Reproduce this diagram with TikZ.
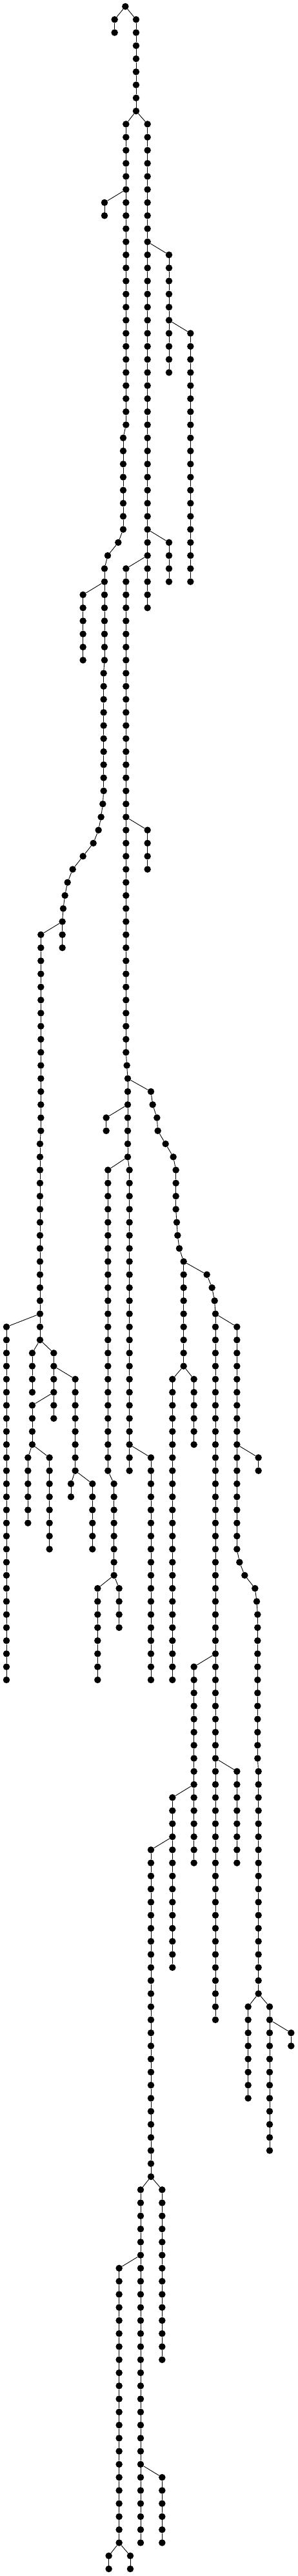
\documentclass[tikz,border=0pt]{standalone}
\usepackage{tikz}

\tikzset{
  bead/.style={circle, fill=black, inner sep=0pt, minimum size=10.5pt},
  link/.style={line width=0.9pt, black}
}

% straight run of beads: name, x, first row, last row, parent
\newcommand{\beadrun}[5]{%
  \foreach \rw in {#3,...,#4}{%
    \node[bead] (#1-\rw) at (#2,\rw) {};
    \ifnum\rw=#3\relax
      \draw[link] (#5) -- (#1-\rw);
    \else
      \pgfmathtruncatemacro{\rq}{\rw-1}%
      \draw[link] (#1-\rq) -- (#1-\rw);
    \fi
  }%
}
% bent run of beads: name, parent, list x/row
\newcommand{\beadbend}[3]{%
  \xdef\beadprev{#2}%
  \foreach \bx/\rw in {#3}{%
    \node[bead] (#1-\rw) at (\bx,\rw) {};
    \draw[link] (\beadprev) -- (#1-\rw);
    \xdef\beadprev{#1-\rw}%
  }%
}

\begin{document}
\begin{tikzpicture}[x={(0.33333pt,0pt)}, y={(0pt,-20.265pt)}]
  \useasboundingbox (0,-0.4935) rectangle (1386,196.546);
  % Root
  \node[bead] (root) at (583,0) {};
  \beadrun{t}{533}{1}{2}{root}
  \beadrun{s}{633}{1}{8}{root}
  % Left trunk
  \beadrun{u}{586}{9}{32}{s-8}
  \beadrun{ua}{486}{15}{16}{u-14}
  \beadrun{u2}{573}{33}{40}{u-32}
  \beadbend{ub}{u2-40}{550/41,501/42}
  \beadrun{u5}{486}{43}{50}{ub-42}
  \beadrun{uc}{386}{45}{50}{u5-44}
  \beadrun{u6}{482}{51}{60}{u5-50}
  \beadbend{ud}{u6-60}{478/61,470/62,458/63,434/64,386/65,338/66,314/67,302/68,294/69}
  \beadrun{u7}{290}{70}{72}{ud-69}
  \beadrun{p}{190}{71}{86}{u7-70}
  \beadrun{p2}{186}{87}{102}{p-86}
  \beadrun{pa}{30}{101}{128}{p2-100}
  \beadrun{pb}{150}{103}{106}{p2-102}
  \beadrun{pc}{250}{103}{108}{p2-102}
  \beadrun{pd}{350}{105}{112}{pc-104}
  \beadrun{pe}{330}{113}{114}{pd-112}
  \beadrun{pf}{430}{113}{118}{pd-112}
  \beadrun{pg}{150}{107}{110}{pc-106}
  \beadrun{ph}{130}{111}{116}{pg-110}
  \beadrun{pj}{230}{111}{118}{pg-110}
  % Right trunk
  \beadrun{v}{686}{9}{46}{s-8}
  \beadrun{va}{786}{19}{28}{v-18}
  \beadrun{vb}{886}{25}{44}{va-24}
  \beadrun{vc}{786}{41}{44}{v-40}
  % Middle trunk
  \beadrun{w}{586}{43}{80}{v-42}
  \beadbend{wq}{w-80}{590/81}
  \beadrun{w3}{594}{82}{88}{wq-81}
  \beadrun{wa}{686}{63}{66}{w-62}
  \beadrun{wb}{494}{85}{86}{w3-84}
  \beadrun{m}{502}{89}{112}{w3-88}
  \beadrun{m2}{530}{113}{120}{m-112}
  \beadrun{ma}{454}{121}{128}{m2-120}
  \beadrun{mb}{554}{121}{124}{m2-120}
  \beadrun{n}{602}{89}{112}{w3-88}
  \beadrun{na}{702}{111}{128}{n-110}
  % Right branch
  \beadbend{rt}{w3-82}{702/83,710/84,730/85,734/86,770/87,806/88}
  \beadrun{rt2}{818}{89}{92}{rt-88}
  \beadbend{rt3}{rt2-92}{822/93,826/94,834/95}
  \beadrun{rt4}{854}{96}{104}{rt3-95}
  \beadrun{ra}{802}{105}{128}{rt4-104}
  \beadrun{rb}{902}{105}{110}{rt4-104}
  \beadbend{kq}{rt4-96}{962/97,986/98,998/99}
  \beadrun{k}{1002}{100}{154}{kq-99}
  \beadrun{ka}{1102}{101}{118}{k-100}
  \beadrun{ke}{1202}{111}{112}{ka-110}
  \beadbend{kab}{ka-118}{1114/119,1138/120,1186/121,1194/122}
  \beadrun{ka6}{1198}{123}{134}{kab-122}
  \beadrun{ka7}{1202}{135}{152}{ka6-134}
  \beadrun{kb}{1154}{153}{160}{ka7-152}
  \beadrun{kc}{1254}{153}{164}{ka7-152}
  \beadrun{kd}{1354}{155}{156}{kc-154}
  \beadrun{kf}{902}{127}{142}{k-126}
  \beadrun{kg}{1102}{135}{142}{k-134}
  \beadrun{kh}{802}{137}{150}{kf-136}
  % Bottom trunk
  \beadrun{ki}{702}{141}{166}{kh-140}
  \beadrun{kj}{654}{167}{194}{ki-166}
  \beadrun{kk}{754}{167}{180}{ki-166}
  \beadrun{kl}{554}{173}{194}{kj-172}
  \beadrun{km}{754}{189}{194}{kj-188}
  \beadrun{kn}{506}{195}{196}{kl-194}
  \beadrun{ko}{606}{195}{196}{kl-194}
\end{tikzpicture}
\end{document}
